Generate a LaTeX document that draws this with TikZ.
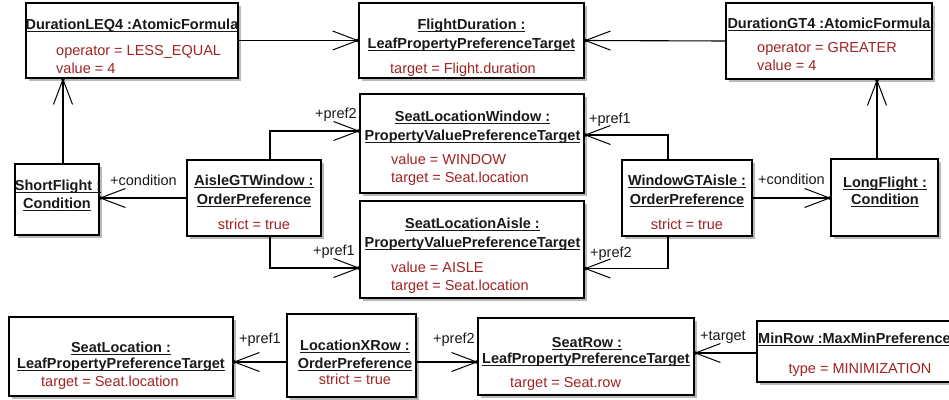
\documentclass[tikz,border=0pt]{standalone}
\usepackage{fontspec}
\setmainfont{Liberation Sans}
\usetikzlibrary{arrows.meta,shadows}
\definecolor{attrred}{RGB}{160,35,35}
\newcommand\ulx[1]{\leavevmode\setbox0\hbox{#1}\rlap{\rule[-3.3pt]{\wd0}{0.9pt}}\box0}
\begin{document}
\begin{tikzpicture}[x=1pt,y=-1pt,
  box/.style={draw=black, line width=1.1pt, fill=white, inner sep=0pt, outer sep=0pt, anchor=north west,
    drop shadow={shadow xshift=3pt, shadow yshift=-3pt, fill=black!50, opacity=0.55}},
  ttl/.style={font=\fontsize{14.5}{17}\selectfont\bfseries, inner sep=0pt, anchor=base, text=black!90},
  attr/.style={font=\fontsize{14.5}{17}\selectfont, inner sep=0pt, anchor=base west, text=attrred},
  attrc/.style={attr, anchor=base},
  lbl/.style={font=\fontsize{14.5}{17}\selectfont, inner sep=0pt, anchor=base west, text=black!90},
  assoc/.style={line width=1.1pt, -{Straight Barb[length=25pt,width=19pt,line width=1pt,sep=-3.5pt]Circle[length=3.5pt]}},
]
\useasboundingbox (0,0) rectangle (949,399);
\clip (0,0) rectangle (949,399);
% boxes
\node[box, minimum width=212pt, minimum height=75pt] (b1) at (26,3) {};
\node[box, minimum width=225pt, minimum height=75pt] (b2) at (359,3) {};
\node[box, minimum width=206pt, minimum height=76pt] (b3) at (726,3) {};
\node[box, minimum width=84pt, minimum height=71pt] (b4) at (15,164) {};
\node[box, minimum width=134pt, minimum height=76pt] (b5) at (187,160) {};
\node[box, minimum width=224pt, minimum height=99pt] (b6) at (360,94) {};
\node[box, minimum width=224pt, minimum height=97pt] (b7) at (360,201) {};
\node[box, minimum width=130pt, minimum height=76pt] (b8) at (622,160) {};
\node[box, minimum width=107pt, minimum height=77pt] (b9) at (831,159) {};
\node[box, minimum width=224pt, minimum height=79pt] (b10) at (9,317) {};
\node[box, minimum width=129pt, minimum height=83pt] (b11) at (287,314) {};
\node[box, minimum width=216pt, minimum height=77pt] (b12) at (478,318) {};
\node[box, minimum width=203pt, minimum height=61pt] (b13) at (757,321) {};
% connectors
\draw[assoc] (b1.east) -- (b2.west);
\draw[assoc] (b3.west) -- (b2.east);
\draw[assoc] ([xshift=6pt]b4.north) -- ([xshift=6pt]b4.north |- b1.south);
\draw[assoc] ([xshift=-7.5pt]b9.north) -- ([xshift=-7.5pt]b9.north |- b3.south);
\draw[assoc] (b5.west) -- (b5.west -| b4.east);
\draw[assoc] (b8.east) -- (b8.east -| b9.west);
\draw[assoc] ([xshift=16pt]b5.north) |- ([yshift=12.5pt]b6.west);
\draw[assoc] ([xshift=16pt]b5.south) |- ([yshift=-18.5pt]b7.west);
\draw[assoc] ([xshift=-19pt]b8.north) |- ([yshift=8.5pt]b6.east);
\draw[assoc] ([xshift=-19pt]b8.south) |- ([yshift=-19pt]b7.east);
\draw[assoc] ([yshift=-6.5pt]b11.west) -- ([yshift=-6.5pt]b11.west -| b10.east);
\draw[assoc] ([yshift=-6.5pt]b11.east) -- ([yshift=-6.5pt]b11.east -| b12.west);
\draw[assoc] ([yshift=-1.5pt]b13.west) -- ([yshift=-1.5pt]b13.west -| b12.east);
% connector labels
\node[lbl] (l5) at (110,185) {+condition};
\node[lbl] (l6) at (758,184) {+condition};
\node[lbl] (l7) at (315,118) {+pref2};
\node[lbl] (l8) at (313,255) {+pref1};
\node[lbl] (l9) at (589,123) {+pref1};
\node[lbl] (l10) at (590,257) {+pref2};
\node[lbl] (l11) at (239,343) {+pref1};
\node[lbl] (l12) at (433,343) {+pref2};
\node[lbl] (l13) at (700,340) {+target};
% box texts
\node[ttl] (t1) at (132,29) {\ulx{DurationLEQ4 :AtomicFormula}};
\node[attr] (a1a) at (56,55) {operator = LESS\_EQUAL};
\node[attr] (a1b) at (56,73) {value = 4};
\node[ttl] (t2a) at (471.5,29) {\ulx{FlightDuration :}};
\node[ttl] (t2b) at (471.5,48) {\ulx{LeafPropertyPreferenceTarget}};
\node[attr] (a2) at (390,73) {target = Flight.duration};
\node[ttl] (t3) at (829,28) {\ulx{DurationGT4 :AtomicFormula}};
\node[attr] (a3a) at (757,52) {operator = GREATER};
\node[attr] (a3b) at (757,70) {value = 4};
\node[ttl] (t4a) at (58,190) {\ulx{ShortFlight :}};
\node[ttl] (t4b) at (57,208) {\ulx{Condition}};
\node[ttl] (t5a) at (254,185) {\ulx{AisleGTWindow :}};
\node[ttl] (t5b) at (254,204) {\ulx{OrderPreference}};
\node[attrc] (a5) at (254,229) {strict = true};
\node[ttl] (t6a) at (472.5,121) {\ulx{SeatLocationWindow :}};
\node[ttl] (t6b) at (472.5,140) {\ulx{PropertyValuePreferenceTarget}};
\node[attr] (a6a) at (391,164) {value = WINDOW};
\node[attr] (a6b) at (391,182) {target = Seat.location};
\node[ttl] (t7a) at (472.5,228) {\ulx{SeatLocationAisle :}};
\node[ttl] (t7b) at (472.5,247) {\ulx{PropertyValuePreferenceTarget}};
\node[attr] (a7a) at (391,272) {value = AISLE};
\node[attr] (a7b) at (391,290) {target = Seat.location};
\node[ttl] (t8a) at (687,185) {\ulx{WindowGTAisle :}};
\node[ttl] (t8b) at (687,204) {\ulx{OrderPreference}};
\node[attrc] (a8) at (687,229) {strict = true};
\node[ttl] (t9a) at (885,187) {\ulx{LongFlight :}};
\node[ttl] (t9b) at (885,204) {\ulx{Condition}};
\node[ttl] (t10a) at (121,352) {\ulx{SeatLocation :}};
\node[ttl] (t10b) at (121,368) {\ulx{LeafPropertyPreferenceTarget}};
\node[attr] (a10) at (41,386) {target = Seat.location};
\node[ttl] (t11a) at (355,350) {\ulx{LocationXRow :}};
\node[ttl] (t11b) at (355,368) {\ulx{OrderPreference}};
\node[attrc] (a11) at (355,384) {strict = true};
\node[ttl] (t12a) at (587,347) {\ulx{SeatRow :}};
\node[ttl] (t12b) at (586,363) {\ulx{LeafPropertyPreferenceTarget}};
\node[attr] (a12) at (510,387) {target = Seat.row};
\node[ttl, anchor=base west] (t13) at (758,343) {\ulx{MinRow :MaxMinPreference}};
\node[attrc] (a13) at (860,373) {type = MINIMIZATION};
\end{tikzpicture}
\end{document}
